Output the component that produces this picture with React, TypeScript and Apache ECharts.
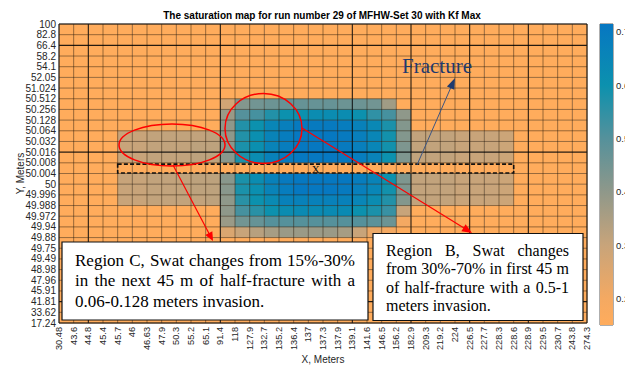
import React, { useEffect, useRef } from 'react';
import * as echarts from 'echarts';

// Grid node coordinates (cell boundaries) along each axis
const xTicks = ['30.48', '43.6', '44.8', '45.4', '45.7', '46', '46.63', '47.9', '50.3', '55.2', '65.1', '91.4', '118', '127.9', '132.7', '135.2', '136.4', '137', '137.3', '137.9', '139.1', '141.6', '146.5', '156.2', '182.9', '209.3', '219.2', '224', '226.5', '227.7', '228.3', '228.6', '228.9', '229.5', '230.7', '243.8', '274.3'];
const yTicks = ['100', '82.8', '66.4', '58.2', '54.1', '52.05', '51.024', '50.512', '50.256', '50.128', '50.064', '50.032', '50.016', '50.008', '50.004', '50', '49.996', '49.988', '49.972', '49.94', '49.88', '49.75', '49.49', '48.98', '47.96', '45.91', '41.81', '33.62', '17.24'];

// Water saturation per cell, rows from top (Y=100) to bottom, columns left to right
const saturation: number[][] = [
  [0.15, 0.15, 0.15, 0.15, 0.15, 0.15, 0.15, 0.15, 0.15, 0.15, 0.15, 0.15, 0.15, 0.15, 0.15, 0.15, 0.15, 0.15, 0.15, 0.15, 0.15, 0.15, 0.15, 0.15, 0.15, 0.15, 0.15, 0.15, 0.15, 0.15, 0.15, 0.15, 0.15, 0.15, 0.15, 0.15],
  [0.15, 0.15, 0.15, 0.15, 0.15, 0.15, 0.15, 0.15, 0.15, 0.15, 0.15, 0.15, 0.15, 0.15, 0.15, 0.15, 0.15, 0.15, 0.15, 0.15, 0.15, 0.15, 0.15, 0.15, 0.15, 0.15, 0.15, 0.15, 0.15, 0.15, 0.15, 0.15, 0.15, 0.15, 0.15, 0.15],
  [0.15, 0.15, 0.15, 0.15, 0.15, 0.15, 0.15, 0.15, 0.15, 0.15, 0.15, 0.15, 0.15, 0.15, 0.15, 0.15, 0.15, 0.15, 0.15, 0.15, 0.15, 0.15, 0.15, 0.15, 0.15, 0.15, 0.15, 0.15, 0.15, 0.15, 0.15, 0.15, 0.15, 0.15, 0.15, 0.15],
  [0.15, 0.15, 0.15, 0.15, 0.15, 0.15, 0.15, 0.15, 0.15, 0.15, 0.15, 0.15, 0.15, 0.15, 0.15, 0.15, 0.15, 0.15, 0.15, 0.15, 0.15, 0.15, 0.15, 0.15, 0.15, 0.15, 0.15, 0.15, 0.15, 0.15, 0.15, 0.15, 0.15, 0.15, 0.15, 0.15],
  [0.15, 0.15, 0.15, 0.15, 0.15, 0.15, 0.15, 0.15, 0.15, 0.15, 0.15, 0.15, 0.15, 0.15, 0.15, 0.15, 0.15, 0.15, 0.15, 0.15, 0.15, 0.15, 0.15, 0.15, 0.15, 0.15, 0.15, 0.15, 0.15, 0.15, 0.15, 0.15, 0.15, 0.15, 0.15, 0.15],
  [0.15, 0.15, 0.15, 0.15, 0.15, 0.15, 0.15, 0.15, 0.15, 0.15, 0.15, 0.15, 0.15, 0.15, 0.15, 0.15, 0.15, 0.15, 0.15, 0.15, 0.15, 0.15, 0.15, 0.15, 0.15, 0.15, 0.15, 0.15, 0.15, 0.15, 0.15, 0.15, 0.15, 0.15, 0.15, 0.15],
  [0.15, 0.15, 0.15, 0.15, 0.15, 0.15, 0.15, 0.15, 0.15, 0.15, 0.15, 0.15, 0.15, 0.15, 0.15, 0.15, 0.15, 0.15, 0.15, 0.15, 0.15, 0.15, 0.15, 0.15, 0.15, 0.15, 0.15, 0.15, 0.15, 0.15, 0.15, 0.15, 0.15, 0.15, 0.15, 0.15],
  [0.15, 0.15, 0.15, 0.15, 0.15, 0.15, 0.15, 0.15, 0.15, 0.15, 0.15, 0.28, 0.42, 0.45, 0.46, 0.47, 0.47, 0.47, 0.47, 0.46, 0.46, 0.45, 0.37, 0.15, 0.15, 0.15, 0.15, 0.15, 0.15, 0.15, 0.15, 0.15, 0.15, 0.15, 0.15, 0.15],
  [0.15, 0.15, 0.15, 0.15, 0.15, 0.15, 0.15, 0.15, 0.15, 0.15, 0.15, 0.38, 0.50, 0.52, 0.57, 0.60, 0.60, 0.62, 0.62, 0.62, 0.60, 0.55, 0.52, 0.40, 0.15, 0.15, 0.15, 0.15, 0.15, 0.15, 0.15, 0.15, 0.15, 0.15, 0.15, 0.15],
  [0.15, 0.15, 0.15, 0.15, 0.15, 0.15, 0.15, 0.15, 0.15, 0.15, 0.15, 0.40, 0.57, 0.60, 0.65, 0.68, 0.70, 0.70, 0.70, 0.69, 0.67, 0.64, 0.58, 0.42, 0.15, 0.15, 0.15, 0.15, 0.15, 0.15, 0.15, 0.15, 0.15, 0.15, 0.15, 0.15],
  [0.15, 0.15, 0.15, 0.15, 0.30, 0.30, 0.31, 0.31, 0.31, 0.31, 0.32, 0.40, 0.57, 0.61, 0.66, 0.69, 0.71, 0.71, 0.71, 0.70, 0.68, 0.65, 0.59, 0.42, 0.31, 0.31, 0.31, 0.30, 0.30, 0.30, 0.29, 0.15, 0.15, 0.15, 0.15, 0.15],
  [0.15, 0.15, 0.15, 0.15, 0.30, 0.30, 0.31, 0.31, 0.31, 0.32, 0.32, 0.41, 0.58, 0.61, 0.66, 0.69, 0.71, 0.71, 0.71, 0.70, 0.68, 0.65, 0.59, 0.43, 0.31, 0.31, 0.31, 0.30, 0.30, 0.30, 0.29, 0.15, 0.15, 0.15, 0.15, 0.15],
  [0.15, 0.15, 0.15, 0.15, 0.30, 0.30, 0.31, 0.31, 0.31, 0.32, 0.32, 0.41, 0.58, 0.62, 0.67, 0.70, 0.71, 0.71, 0.71, 0.71, 0.69, 0.66, 0.60, 0.43, 0.31, 0.31, 0.31, 0.30, 0.30, 0.30, 0.29, 0.15, 0.15, 0.15, 0.15, 0.15],
  [0.15, 0.15, 0.15, 0.15, 0.15, 0.15, 0.15, 0.15, 0.15, 0.15, 0.15, 0.15, 0.15, 0.15, 0.15, 0.15, 0.15, 0.15, 0.15, 0.15, 0.15, 0.15, 0.15, 0.15, 0.15, 0.15, 0.15, 0.15, 0.15, 0.15, 0.15, 0.15, 0.15, 0.15, 0.15, 0.15],
  [0.15, 0.15, 0.15, 0.15, 0.30, 0.30, 0.31, 0.31, 0.31, 0.32, 0.32, 0.41, 0.58, 0.62, 0.67, 0.70, 0.71, 0.71, 0.71, 0.71, 0.69, 0.66, 0.60, 0.43, 0.31, 0.31, 0.31, 0.30, 0.30, 0.30, 0.29, 0.15, 0.15, 0.15, 0.15, 0.15],
  [0.15, 0.15, 0.15, 0.15, 0.30, 0.30, 0.31, 0.31, 0.31, 0.32, 0.32, 0.41, 0.58, 0.61, 0.66, 0.69, 0.71, 0.71, 0.71, 0.70, 0.68, 0.65, 0.59, 0.43, 0.31, 0.31, 0.31, 0.30, 0.30, 0.30, 0.29, 0.15, 0.15, 0.15, 0.15, 0.15],
  [0.15, 0.15, 0.15, 0.15, 0.30, 0.30, 0.31, 0.31, 0.31, 0.31, 0.32, 0.40, 0.56, 0.60, 0.63, 0.67, 0.67, 0.67, 0.67, 0.67, 0.65, 0.62, 0.57, 0.42, 0.31, 0.31, 0.31, 0.30, 0.30, 0.30, 0.29, 0.15, 0.15, 0.15, 0.15, 0.15],
  [0.15, 0.15, 0.15, 0.15, 0.15, 0.15, 0.15, 0.15, 0.15, 0.15, 0.15, 0.40, 0.52, 0.56, 0.60, 0.62, 0.63, 0.63, 0.63, 0.63, 0.60, 0.58, 0.54, 0.30, 0.15, 0.15, 0.15, 0.15, 0.15, 0.15, 0.15, 0.15, 0.15, 0.15, 0.15, 0.15],
  [0.15, 0.15, 0.15, 0.15, 0.15, 0.15, 0.15, 0.15, 0.15, 0.15, 0.15, 0.38, 0.45, 0.47, 0.50, 0.50, 0.50, 0.50, 0.50, 0.50, 0.50, 0.49, 0.46, 0.20, 0.15, 0.15, 0.15, 0.15, 0.15, 0.15, 0.15, 0.15, 0.15, 0.15, 0.15, 0.15],
  [0.15, 0.15, 0.15, 0.15, 0.15, 0.15, 0.15, 0.15, 0.15, 0.15, 0.15, 0.26, 0.30, 0.33, 0.36, 0.38, 0.38, 0.38, 0.38, 0.36, 0.30, 0.22, 0.20, 0.15, 0.15, 0.15, 0.15, 0.15, 0.15, 0.15, 0.15, 0.15, 0.15, 0.15, 0.15, 0.15],
  [0.15, 0.15, 0.15, 0.15, 0.15, 0.15, 0.15, 0.15, 0.15, 0.15, 0.15, 0.15, 0.15, 0.15, 0.15, 0.15, 0.15, 0.15, 0.15, 0.15, 0.15, 0.15, 0.15, 0.15, 0.15, 0.15, 0.15, 0.15, 0.15, 0.15, 0.15, 0.15, 0.15, 0.15, 0.15, 0.15],
  [0.15, 0.15, 0.15, 0.15, 0.15, 0.15, 0.15, 0.15, 0.15, 0.15, 0.15, 0.15, 0.15, 0.15, 0.15, 0.15, 0.15, 0.15, 0.15, 0.15, 0.15, 0.15, 0.15, 0.15, 0.15, 0.15, 0.15, 0.15, 0.15, 0.15, 0.15, 0.15, 0.15, 0.15, 0.15, 0.15],
  [0.15, 0.15, 0.15, 0.15, 0.15, 0.15, 0.15, 0.15, 0.15, 0.15, 0.15, 0.15, 0.15, 0.15, 0.15, 0.15, 0.15, 0.15, 0.15, 0.15, 0.15, 0.15, 0.15, 0.15, 0.15, 0.15, 0.15, 0.15, 0.15, 0.15, 0.15, 0.15, 0.15, 0.15, 0.15, 0.15],
  [0.15, 0.15, 0.15, 0.15, 0.15, 0.15, 0.15, 0.15, 0.15, 0.15, 0.15, 0.15, 0.15, 0.15, 0.15, 0.15, 0.15, 0.15, 0.15, 0.15, 0.15, 0.15, 0.15, 0.15, 0.15, 0.15, 0.15, 0.15, 0.15, 0.15, 0.15, 0.15, 0.15, 0.15, 0.15, 0.15],
  [0.15, 0.15, 0.15, 0.15, 0.15, 0.15, 0.15, 0.15, 0.15, 0.15, 0.15, 0.15, 0.15, 0.15, 0.15, 0.15, 0.15, 0.15, 0.15, 0.15, 0.15, 0.15, 0.15, 0.15, 0.15, 0.15, 0.15, 0.15, 0.15, 0.15, 0.15, 0.15, 0.15, 0.15, 0.15, 0.15],
  [0.15, 0.15, 0.15, 0.15, 0.15, 0.15, 0.15, 0.15, 0.15, 0.15, 0.15, 0.15, 0.15, 0.15, 0.15, 0.15, 0.15, 0.15, 0.15, 0.15, 0.15, 0.15, 0.15, 0.15, 0.15, 0.15, 0.15, 0.15, 0.15, 0.15, 0.15, 0.15, 0.15, 0.15, 0.15, 0.15],
  [0.15, 0.15, 0.15, 0.15, 0.15, 0.15, 0.15, 0.15, 0.15, 0.15, 0.15, 0.15, 0.15, 0.15, 0.15, 0.15, 0.15, 0.15, 0.15, 0.15, 0.15, 0.15, 0.15, 0.15, 0.15, 0.15, 0.15, 0.15, 0.15, 0.15, 0.15, 0.15, 0.15, 0.15, 0.15, 0.15],
  [0.15, 0.15, 0.15, 0.15, 0.15, 0.15, 0.15, 0.15, 0.15, 0.15, 0.15, 0.15, 0.15, 0.15, 0.15, 0.15, 0.15, 0.15, 0.15, 0.15, 0.15, 0.15, 0.15, 0.15, 0.15, 0.15, 0.15, 0.15, 0.15, 0.15, 0.15, 0.15, 0.15, 0.15, 0.15, 0.15],
];

// Colour scale range and colour bar ticks
const satMin = 0.15;
const satMax = 0.715;
const colorbarTicks = [0.2, 0.3, 0.4, 0.5, 0.6, 0.7];
const colorStops: [number, string][] = [
  [0.15, '#FFAC5C'],
  [0.2, '#F4A962'],
  [0.3, '#C8A47A'],
  [0.4, '#8F988A'],
  [0.5, '#55919B'],
  [0.6, '#0C91AE'],
  [0.715, '#0677C2'],
];

// Heavier grid lines (node indices)
const majorCols = [2, 11, 20, 24, 28, 32];
const majorRows = [2, 12, 26];

// Fracture extent (node indices) and well location
const fractureCols = [4, 31];
const fractureRow = 13;
const wellCol = 17;

const SERIF = '"Liberation Serif", "Times New Roman", serif';
const SANS = '"Liberation Sans", Arial, sans-serif';

function colorAt(v: number): string {
  if (v <= colorStops[0][0]) return colorStops[0][1];
  for (let i = 0; i < colorStops.length - 1; i++) {
    const [a, ca] = colorStops[i];
    const [b, cb] = colorStops[i + 1];
    if (v <= b) return echarts.color.lerp((v - a) / (b - a), [ca, cb]) as string;
  }
  return colorStops[colorStops.length - 1][1];
}

function arrow(x1: number, y1: number, x2: number, y2: number, color: string, lw: number, hl: number, hw: number, lineColor?: string) {
  const dx = x2 - x1, dy = y2 - y1;
  const L = Math.hypot(dx, dy);
  const ux = dx / L, uy = dy / L;
  const bx = x2 - ux * hl, by = y2 - uy * hl;
  const px = -uy, py = ux;
  return [
    { type: 'line', shape: { x1, y1, x2: bx + ux, y2: by + uy }, style: { stroke: lineColor || color, lineWidth: lw }, z: 100 },
    {
      type: 'polygon',
      shape: { points: [[x2, y2], [bx + (px * hw) / 2, by + (py * hw) / 2], [bx - (px * hw) / 2, by - (py * hw) / 2]] },
      style: { fill: color },
      z: 100,
    },
  ];
}

let measureCtx: CanvasRenderingContext2D | null = null;
function textLine(str: string, x0: number, x1: number, y: number, size: number, justify: boolean) {
  const font = `${size}px ${SERIF}`;
  const base = { fill: '#000', font, verticalAlign: 'middle', textVerticalAlign: 'middle', align: 'left', textAlign: 'left' };
  if (!justify) return [{ type: 'text', x: x0, y, z: 120, style: { ...base, text: str } }];
  if (!measureCtx) measureCtx = document.createElement('canvas').getContext('2d');
  const words = str.split(' ');
  measureCtx!.font = font;
  const widths = words.map((w) => measureCtx!.measureText(w).width);
  const total = widths.reduce((a, b) => a + b, 0);
  const gap = (x1 - x0 - total) / (words.length - 1);
  let x = x0;
  return words.map((w, i) => {
    const el = { type: 'text', x, y, z: 120, style: { ...base, text: w } };
    x += widths[i] + gap;
    return el;
  });
}

export default function App() {
  const ref = useRef<HTMLDivElement>(null);

  useEffect(() => {
    if (!ref.current) return;
    const chart = echarts.init(ref.current, undefined, { renderer: 'svg' });
    const nCols = xTicks.length - 1;
    const nRows = yTicks.length - 1;

    const cells: number[][] = [];
    saturation.forEach((row, r) => row.forEach((v, c) => cells.push([c, r, v])));

    const lines: number[][] = [];
    xTicks.forEach((_, i) => lines.push([0, i, majorCols.includes(i) ? 1 : 0]));
    yTicks.forEach((_, i) => lines.push([1, i, majorRows.includes(i) ? 1 : 0]));

    const gradient = new echarts.graphic.LinearGradient(
      0, 1, 0, 0,
      colorStops.map(([v, c]) => ({ offset: (v - satMin) / (satMax - satMin), color: c }))
    );

    const option: any = {
      animation: false,
      backgroundColor: '#fff',
      grid: [
        { left: 59, top: 24, width: 528, height: 299, outerBoundsMode: 'none', containLabel: false, show: true, borderColor: '#1a1a1a', borderWidth: 1, backgroundColor: 'transparent', z: 5 },
        { left: 600, top: 24, width: 13, height: 301, outerBoundsMode: 'none', containLabel: false, show: true, borderColor: '#333', borderWidth: 0.8 },
      ],
      xAxis: [
        {
          type: 'value', gridIndex: 0, min: 0, max: nCols, interval: 1,
          axisLine: { show: false }, axisTick: { show: false }, splitLine: { show: false },
          axisLabel: {
            rotate: 90, fontSize: 9.2, color: '#262626', fontFamily: SANS, margin: 4,
            formatter: (v: number) => xTicks[Math.round(v)] ?? '',
          },
          name: 'X, Meters', nameLocation: 'middle', nameGap: 31, nameMoveOverlap: false,
          nameTextStyle: { fontSize: 10, color: '#262626', fontFamily: SANS },
        },
        { type: 'category', gridIndex: 1, data: ['Swat'], show: false },
      ],
      yAxis: [
        {
          type: 'value', gridIndex: 0, min: 0, max: nRows, interval: 1, inverse: true,
          axisLine: { show: false }, axisTick: { show: false }, splitLine: { show: false },
          axisLabel: {
            fontSize: 10, color: '#262626', fontFamily: SANS, margin: 3,
            formatter: (v: number) => yTicks[Math.round(v)] ?? '',
          },
          name: 'Y, Meters', nameLocation: 'middle', nameGap: 34, nameMoveOverlap: false,
          nameTextStyle: { fontSize: 10, color: '#262626', fontFamily: SANS },
        },
        {
          type: 'value', gridIndex: 1, min: satMin, max: satMax, position: 'right',
          axisLine: { show: false }, splitLine: { show: false },
          axisTick: { show: true, inside: true, length: 2, customValues: colorbarTicks, lineStyle: { color: '#333' } },
          axisLabel: { fontSize: 9.5, color: '#262626', fontFamily: SANS, margin: 3, customValues: colorbarTicks, formatter: (v: number) => v.toFixed(1) },
        },
      ],
      series: [
        {
          type: 'custom', name: 'saturation', xAxisIndex: 0, yAxisIndex: 0, clip: false,
          data: cells, encode: { x: 0, y: 1 }, z: 2,
          renderItem: (_p: any, api: any) => {
            const c = api.value(0), r = api.value(1), v = api.value(2);
            const p0 = api.coord([c, r]);
            const p1 = api.coord([c + 1, r + 1]);
            return {
              type: 'rect',
              shape: { x: Math.min(p0[0], p1[0]), y: Math.min(p0[1], p1[1]), width: Math.abs(p1[0] - p0[0]) + 0.3, height: Math.abs(p1[1] - p0[1]) + 0.3 },
              style: { fill: colorAt(v) },
            };
          },
        },
        {
          type: 'custom', name: 'mesh', xAxisIndex: 0, yAxisIndex: 0, clip: false,
          data: lines, encode: { x: 1, y: 1 }, z: 3, silent: true,
          renderItem: (_p: any, api: any) => {
            const kind = api.value(0), i = api.value(1), major = api.value(2);
            const a = kind === 0 ? api.coord([i, 0]) : api.coord([0, i]);
            const b = kind === 0 ? api.coord([i, nRows]) : api.coord([nCols, i]);
            return {
              type: 'line',
              shape: { x1: a[0], y1: a[1], x2: b[0], y2: b[1] },
              style: { stroke: major ? 'rgba(0,0,0,0.85)' : 'rgba(45,28,10,0.55)', lineWidth: major ? 1.1 : 0.9 },
            };
          },
        },
        {
          type: 'bar', xAxisIndex: 1, yAxisIndex: 1, stack: 'cb', barWidth: '100%', silent: true,
          data: [satMin], itemStyle: { color: 'rgba(0,0,0,0)' },
        },
        {
          type: 'bar', xAxisIndex: 1, yAxisIndex: 1, stack: 'cb', barWidth: '100%', silent: true,
          data: [satMax - satMin], itemStyle: { color: gradient },
        },
      ],
    };
    chart.setOption(option);

    // Annotation layer
    const toPx = (p: number[]) => chart.convertToPixel({ xAxisIndex: 0, yAxisIndex: 0 }, p) as number[];
    const f0 = toPx([fractureCols[0], fractureRow + 0.12]);
    const f1 = toPx([fractureCols[1], fractureRow + 0.95]);
    const well = toPx([wellCol + 0.5, fractureRow + 0.55]);

    const graphic: any[] = [
      {
        type: 'text', x: 322, y: 15, z: 120,
        style: { text: 'The saturation map for run number 29 of MFHW-Set 30 with Kf Max', font: `bold 10px ${SANS}`, fill: '#000', align: 'center', textAlign: 'center', verticalAlign: 'middle', textVerticalAlign: 'middle' },
      },
      {
        type: 'rect', z: 90,
        shape: { x: f0[0], y: f0[1], width: f1[0] - f0[0], height: f1[1] - f0[1] },
        style: { fill: 'none', stroke: '#111', lineWidth: 1.6, lineDash: [4, 2.2] },
      },
      {
        type: 'text', x: well[0], y: well[1], z: 95,
        style: { text: 'X', font: `11px ${SERIF}`, fill: '#111', align: 'center', textAlign: 'center', verticalAlign: 'middle', textVerticalAlign: 'middle' },
      },
      {
        type: 'text', x: 402, y: 66, z: 120,
        style: { text: 'Fracture', font: `21px ${SERIF}`, fill: '#1F3A6E', align: 'left', textAlign: 'left', verticalAlign: 'middle', textVerticalAlign: 'middle' },
      },
      ...arrow(417, 165, 455, 78, '#1F3A6E', 1, 11, 8, '#3C5582'),
      { type: 'ellipse', z: 100, shape: { cx: 172, cy: 145, rx: 53, ry: 21 }, style: { fill: 'none', stroke: '#FF0000', lineWidth: 1.5 } },
      { type: 'ellipse', z: 100, shape: { cx: 263.5, cy: 128.5, rx: 38.5, ry: 35 }, style: { fill: 'none', stroke: '#FF0000', lineWidth: 1.5 } },
      ...arrow(173, 165, 213, 241, '#FF0000', 1.2, 9, 8),
      ...arrow(302, 128, 472, 233, '#FF0000', 1.2, 10, 8),
      { type: 'rect', z: 110, shape: { x: 62, y: 242, width: 306, height: 78 }, style: { fill: '#fff', stroke: '#111', lineWidth: 1.2 } },
      ...textLine('Region C, Swat changes from 15%-30%', 75, 355, 260, 17, true),
      ...textLine('in the next 45 m of half-fracture with a', 75, 355, 280.5, 17, true),
      ...textLine('0.06-0.128 meters invasion.', 75, 355, 301, 17, false),
      { type: 'rect', z: 110, shape: { x: 373, y: 233.5, width: 210, height: 87 }, style: { fill: '#fff', stroke: '#111', lineWidth: 1.2 } },
      ...textLine('Region B, Swat changes', 386, 569, 250, 16, true),
      ...textLine('from 30%-70% in first 45 m', 386, 569, 268.5, 16, true),
      ...textLine('of half-fracture with a 0.5-1', 386, 569, 287, 16, true),
      ...textLine('meters invasion.', 386, 569, 305.5, 16, false),
    ];
    chart.setOption({ graphic });

    return () => chart.dispose();
  }, []);

  return <div ref={ref} style={{ position: 'fixed', left: 0, top: 0, width: 625, height: 365, background: '#fff' }} />;
}
